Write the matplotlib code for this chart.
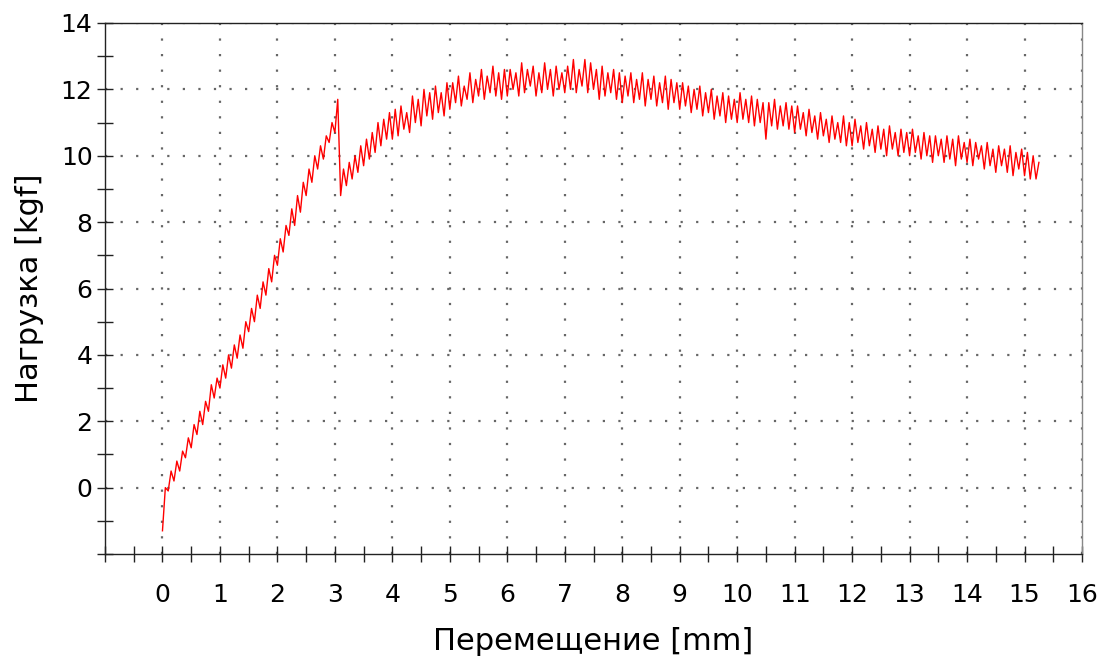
import numpy as np
import matplotlib
matplotlib.use("Agg")
import matplotlib.pyplot as plt
from matplotlib.ticker import FixedLocator

# ---- data ----
step_mm = 0.05  # sampling interval of displacement
load_kgf = [
    # 0.00 - 0.95 mm
    -1.3, 0.0, -0.1, 0.5, 0.2, 0.8, 0.5, 1.1, 0.9, 1.5, 1.2, 1.9, 1.6, 2.3, 1.9, 2.6, 2.3, 3.1, 2.7, 3.3,
    # 1.00 - 1.95
    3.0, 3.7, 3.3, 4.0, 3.6, 4.3, 3.9, 4.6, 4.2, 5.0, 4.7, 5.4, 5.0, 5.8, 5.4, 6.2, 5.8, 6.6, 6.2, 7.0,
    # 2.00 - 2.95
    6.7, 7.5, 7.1, 7.9, 7.6, 8.4, 7.9, 8.8, 8.3, 9.2, 8.8, 9.6, 9.2, 10.0, 9.6, 10.3, 9.9, 10.6, 10.4, 11.0,
    # 3.00 - 3.95
    10.7, 11.7, 8.8, 9.6, 9.1, 9.8, 9.3, 10.0, 9.5, 10.3, 9.7, 10.5, 9.9, 10.7, 10.1, 11.0, 10.3, 11.1, 10.5, 11.3,
    # 4.00 - 4.95
    10.5, 11.4, 10.6, 11.5, 10.8, 11.3, 10.7, 11.8, 11.0, 11.7, 10.9, 12.0, 11.2, 11.9, 11.1, 12.1, 11.3, 11.9, 11.2, 12.2,
    # 5.00 - 5.95
    11.4, 12.2, 11.6, 12.4, 11.5, 12.1, 11.7, 12.5, 11.6, 12.3, 11.8, 12.6, 11.7, 12.4, 11.9, 12.7, 11.8, 12.5, 11.7, 12.6,
    # 6.00 - 6.95
    11.8, 12.6, 12.0, 12.5, 11.8, 12.8, 11.9, 12.6, 12.1, 12.7, 11.8, 12.5, 11.9, 12.8, 12.0, 12.6, 11.8, 12.7, 12.0, 12.5,
    # 7.00 - 7.95
    11.9, 12.7, 12.0, 12.9, 11.9, 12.6, 12.1, 12.9, 11.9, 12.8, 12.0, 12.6, 11.7, 12.7, 11.8, 12.5, 11.9, 12.6, 11.7, 12.5,
    # 8.00 - 8.95
    11.6, 12.4, 11.8, 12.5, 11.6, 12.3, 11.7, 12.5, 11.5, 12.3, 11.7, 12.4, 11.5, 12.2, 11.6, 12.4, 11.4, 12.3, 11.6, 12.2,
    # 9.00 - 9.95
    11.4, 12.2, 11.5, 12.1, 11.3, 12.0, 11.4, 12.1, 11.2, 11.9, 11.3, 12.0, 11.1, 11.8, 11.2, 11.9, 11.0, 11.8, 11.1, 11.7,
    # 10.00 - 10.95
    11.0, 11.9, 11.1, 11.7, 11.0, 11.8, 10.9, 11.7, 11.0, 11.6, 10.5, 11.6, 10.9, 11.7, 10.8, 11.5, 10.9, 11.6, 10.8, 11.5,
    # 11.00 - 11.95
    10.7, 11.5, 10.8, 11.3, 10.6, 11.4, 10.7, 11.2, 10.5, 11.3, 10.6, 11.1, 10.4, 11.2, 10.5, 11.0, 10.4, 11.2, 10.3, 11.0,
    # 12.00 - 12.95
    10.3, 11.1, 10.4, 10.9, 10.2, 11.0, 10.3, 10.8, 10.1, 10.9, 10.2, 10.8, 10.0, 10.9, 10.2, 10.7, 10.0, 10.8, 10.1, 10.7,
    # 13.00 - 13.95
    10.0, 10.8, 10.1, 10.6, 9.9, 10.7, 10.0, 10.6, 9.8, 10.6, 10.0, 10.5, 9.8, 10.6, 9.9, 10.5, 9.7, 10.6, 9.9, 10.4,
    # 14.00 - 14.95
    9.8, 10.5, 9.7, 10.4, 9.9, 10.3, 9.6, 10.4, 9.7, 10.2, 9.5, 10.3, 9.7, 10.2, 9.5, 10.3, 9.4, 10.1, 9.6, 10.2,
    # 15.00 - 15.25
    9.4, 10.1, 9.3, 10.0, 9.3, 9.8,
]
displacement_mm = np.arange(len(load_kgf)) * step_mm

x_tick_labels = [str(i) for i in range(0, 17)]
y_tick_values = [0, 2, 4, 6, 8, 10, 12, 14]
x_label = "Перемещение [mm]"
y_label = "Нагрузка [kgf]"

# ---- figure ----
plt.rcParams['font.family'] = ['DejaVu Sans']
fig = plt.figure(figsize=(10.99, 6.57), dpi=100)
ax = fig.add_axes([105/1099, 1 - 554/657, (1082 - 105)/1099, (554 - 23)/657])

ax.plot(displacement_mm, load_kgf, color='#ff0000', lw=1.0, zorder=3)

ax.set_xlim(-1, 16)
ax.set_ylim(-2, 14)

ax.xaxis.set_major_locator(FixedLocator(list(range(0, 17))))
ax.set_xticklabels(x_tick_labels)
ax.xaxis.set_minor_locator(FixedLocator([-1 + 0.5 * i for i in range(34) if (-1 + 0.5 * i) not in range(0, 17)]))
ax.yaxis.set_major_locator(FixedLocator(y_tick_values))
ax.yaxis.set_minor_locator(FixedLocator([-2, -1, 1, 3, 5, 7, 9, 11, 13]))

ax.tick_params(axis='both', which='both', direction='inout', color='#222222', width=1.0)
ax.tick_params(axis='x', which='both', length=11, pad=15.5, labelsize=18)
ax.tick_params(axis='y', which='both', length=12, pad=3, labelsize=18)

for s in ax.spines.values():
    s.set_color('#222222')
    s.set_linewidth(1.0)
ax.spines['right'].set_color('#888888')

ax.grid(True, which='major', color='#666666', linestyle=(0, (1, 6)), linewidth=1.6)

ax.set_xlabel(x_label, fontsize=22, labelpad=14)
ax.set_ylabel(y_label, fontsize=22, labelpad=12)

fig.savefig("out.png", dpi=100)
